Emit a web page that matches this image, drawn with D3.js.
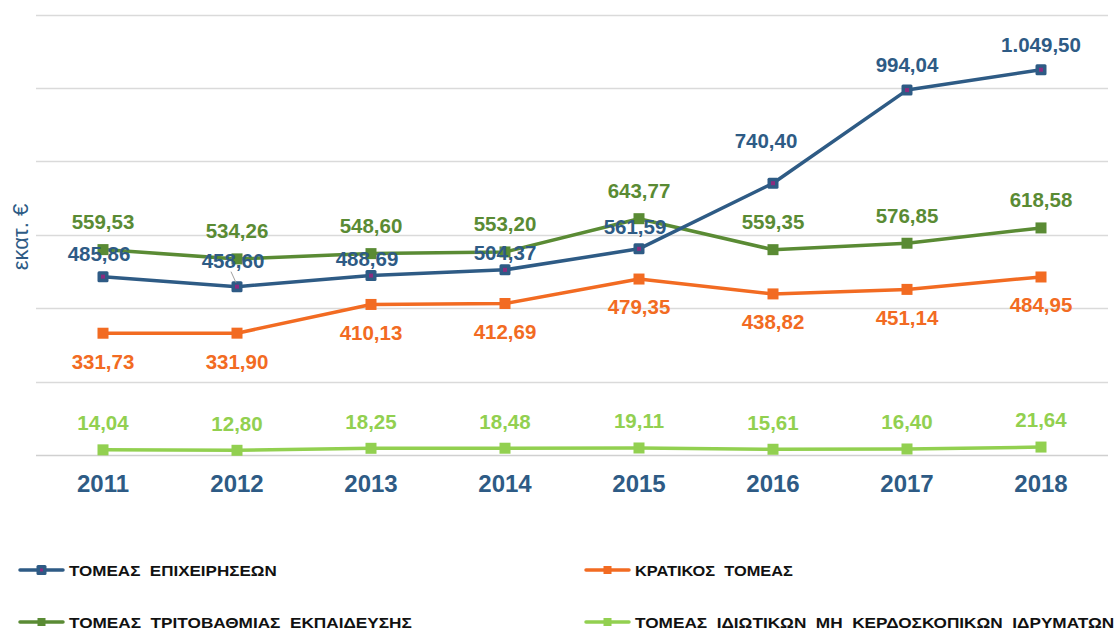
<!DOCTYPE html>
<html><head><meta charset="utf-8">
<script src="https://cdn.jsdelivr.net/npm/d3@7"></script>
<style>
body{margin:0;background:#fff;}
svg{display:block;font-family:"Liberation Sans",Arial,sans-serif;}
</style></head>
<body><svg id="c" width="1115" height="631"></svg>
<script>
const years = ["2011","2012","2013","2014","2015","2016","2017","2018"];
const business = [485.86,458.60,488.69,504.37,561.59,740.40,994.04,1049.50];
const government = [331.73,331.90,410.13,412.69,479.35,438.82,451.14,484.95];
const higherEd = [559.53,534.26,548.60,553.20,643.77,559.35,576.85,618.58];
const privateNP = [14.04,12.80,18.25,18.48,19.11,15.61,16.40,21.64];
const yTicks = [0,200,400,600,800,1000,1200];
const seriesNames = ["ΤΟΜΕΑΣ  ΕΠΙΧΕΙΡΗΣΕΩΝ","ΚΡΑΤΙΚΟΣ  ΤΟΜΕΑΣ","ΤΟΜΕΑΣ  ΤΡΙΤΟΒΑΘΜΙΑΣ  ΕΚΠΑΙΔΕΥΣΗΣ","ΤΟΜΕΑΣ  ΙΔΙΩΤΙΚΩΝ  ΜΗ  ΚΕΡΔΟΣΚΟΠΙΚΩΝ  ΙΔΡΥΜΑΤΩΝ"];
const yTitle = "εκατ. €";

// label nudges for the business series (styling only)
const bizLabelDx = [-4,-4,-4,0,-4,-7,0,0];
const bizLabelDy = [-23,-26,-17,-17,-22,-43,-25,-25];

const fmt = v => {
  const s = v.toFixed(2).split(".");
  const int = s[0].replace(/\B(?=(\d{3})+(?!\d))/g, ".");
  return int + "," + s[1];
};

const svg = d3.select("#c");
const pLeft = 36, pRight = 1108, pTop = 14.5, pBottom = 455;
const x = d3.scaleBand().domain(years).range([pLeft,pRight]);
const y = d3.scaleLinear().domain([0,1200]).range([pBottom,pTop]);
const cx = d => x(d) + x.bandwidth()/2;

// gridlines
svg.append("g").selectAll("line").data(yTicks).join("line")
  .attr("x1",pLeft).attr("x2",pRight)
  .attr("y1",d=>Math.round(y(d))+0.5).attr("y2",d=>Math.round(y(d))+0.5)
  .attr("stroke",d=>d===0?"#d0d0d0":"#dadada").attr("stroke-width",1.3);

// x axis labels
const xAxis = d3.axisBottom(x).tickSize(0).tickPadding(0);
const gx = svg.append("g").attr("transform",`translate(0,${pBottom})`).call(xAxis);
gx.select(".domain").remove();
gx.selectAll("text").attr("dy",null).attr("y",37)
  .attr("font-family","Liberation Sans, Arial, sans-serif")
  .attr("font-size",24).attr("font-weight","bold").attr("fill","#2E5B85");

// y title
svg.append("text").attr("transform","translate(28,237) rotate(-90)")
  .attr("text-anchor","middle").attr("font-size",22).attr("fill","#2E5B85").text(yTitle);

const series = [
  {name:seriesNames[2], vals:higherEd, color:"#5A8B34", marker:"plain", labelDy:()=>-28, labelDx:()=>0},
  {name:seriesNames[1], vals:government, color:"#F26B22", marker:"plain", labelDy:()=>28, labelDx:()=>0},
  {name:seriesNames[3], vals:privateNP, color:"#92D050", marker:"plain", labelDy:()=>-27, labelDx:()=>0},
  {name:seriesNames[0], vals:business, color:"#2E5B85", marker:"blue", labelDy:i=>bizLabelDy[i], labelDx:i=>bizLabelDx[i]}
];

const line = d3.line().x((d,i)=>cx(years[i])).y(d=>y(d));

function drawMarker(g, mx, my, s){
  if (s.marker === "blue"){
    g.append("rect").attr("x",mx-5.5).attr("y",my-5.5).attr("width",11).attr("height",11)
      .attr("rx",1.5).attr("fill",s.color);
    g.append("rect").attr("x",mx-2).attr("y",my-2).attr("width",4).attr("height",4).attr("fill","#8B2C7E");
  } else {
    g.append("rect").attr("x",mx-5.5).attr("y",my-5.5).attr("width",11).attr("height",11).attr("fill",s.color);
  }
}

series.forEach(s=>{
  const g = svg.append("g");
  g.append("path").datum(s.vals).attr("d",line).attr("fill","none")
    .attr("stroke",s.color).attr("stroke-width",3.5).attr("stroke-linejoin","round");
  s.vals.forEach((v,i)=> drawMarker(g, cx(years[i]), y(v), s));
});

// leader line for 2012 business label
svg.append("line").attr("x1",cx("2012")-6).attr("y1",y(business[1])-15)
  .attr("x2",cx("2012")-1).attr("y2",y(business[1])-4)
  .attr("stroke","#a0a0a0").attr("stroke-width",1);

// data labels
series.forEach(s=>{
  svg.append("g").selectAll("text").data(s.vals).join("text")
    .attr("x",(d,i)=>cx(years[i]) + s.labelDx(i))
    .attr("y",(d,i)=>y(d) + s.labelDy(i))
    .attr("dy","0.36em")
    .attr("text-anchor","middle").attr("font-size",20.5).attr("font-weight","bold")
    .attr("fill",s.color).text(d=>fmt(d));
});

// legend
const legend = [
  {name:seriesNames[0], color:"#2E5B85", marker:"blue", lx:20, ly:570, w:208},
  {name:seriesNames[1], color:"#F26B22", marker:"plain", lx:586, ly:570, w:158},
  {name:seriesNames[2], color:"#5A8B34", marker:"plain", lx:20, ly:622, w:343},
  {name:seriesNames[3], color:"#92D050", marker:"plain", lx:586, ly:622, w:480}
];
legend.forEach(l=>{
  const g = svg.append("g");
  g.append("line").attr("x1",l.lx).attr("x2",l.lx+43).attr("y1",l.ly).attr("y2",l.ly)
    .attr("stroke",l.color).attr("stroke-width",3.5).attr("stroke-linecap","round");
  if (l.marker==="blue"){
    g.append("rect").attr("x",l.lx+16.5).attr("y",l.ly-5).attr("width",10).attr("height",10).attr("rx",1.5).attr("fill",l.color);
    g.append("rect").attr("x",l.lx+20).attr("y",l.ly-1.5).attr("width",3).attr("height",3).attr("fill","#8B2C7E");
  } else {
    g.append("rect").attr("x",l.lx+17.5).attr("y",l.ly-4).attr("width",8).attr("height",8).attr("fill",l.color);
  }
  const t = g.append("text").attr("x",0).attr("y",0).attr("dy","0.36em")
    .attr("font-size",15.5).attr("font-weight","bold").attr("fill","#111")
    .style("white-space","pre").text(l.name);
  const w0 = t.node().getComputedTextLength();
  t.attr("transform",`translate(${l.lx+49},${l.ly}) scale(${l.w/w0},1)`);
});
</script></body></html>
